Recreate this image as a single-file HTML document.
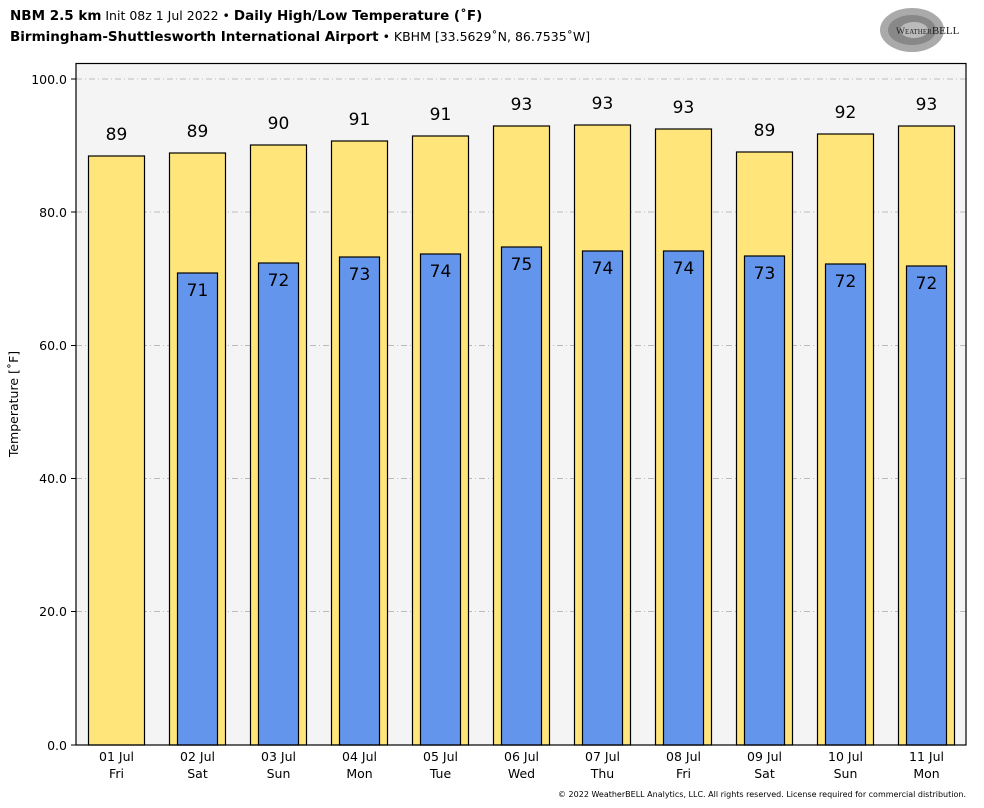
<!DOCTYPE html>
<html><head><meta charset="utf-8"><style>
html,body{margin:0;padding:0;background:#fff;}
svg{display:block;font-family:"DejaVu Sans","Liberation Sans",sans-serif;}
</style></head><body>
<svg width="984" height="808" viewBox="0 0 984 808" xmlns="http://www.w3.org/2000/svg">
<rect width="984" height="808" fill="#fff"/>
<text x="10" y="20" font-size="13.5" fill="#000"><tspan font-weight="bold">NBM 2.5 km</tspan><tspan font-size="12.5"> Init 08z 1 Jul 2022 • </tspan><tspan font-weight="bold">Daily High/Low Temperature (˚F)</tspan></text>
<text x="10" y="41" font-size="13.5" fill="#000"><tspan font-weight="bold">Birmingham-Shuttlesworth International Airport</tspan><tspan font-size="12.5"> • KBHM [33.5629˚N, 86.7535˚W]</tspan></text>
<!-- logo -->
<g>
<ellipse cx="912" cy="30" rx="32" ry="22" fill="#aaa"/>
<ellipse cx="912" cy="30" rx="24" ry="15" fill="#888"/>
<ellipse cx="914" cy="30" rx="14" ry="8" fill="#bbb"/>
<text x="896" y="34" font-size="9.5" font-family="Liberation Serif,serif" fill="#222">W<tspan font-size="7">EATHER</tspan><tspan font-size="11">BELL</tspan></text>
</g>
<rect x="76" y="63.5" width="890" height="681.5" fill="#f4f4f4"/>
<g stroke="#bbb" stroke-width="1" stroke-dasharray="6,3,1,3">
<line x1="76" x2="966" y1="79" y2="79"/>
<line x1="76" x2="966" y1="212" y2="212"/>
<line x1="76" x2="966" y1="345.5" y2="345.5"/>
<line x1="76" x2="966" y1="478.5" y2="478.5"/>
<line x1="76" x2="966" y1="611.5" y2="611.5"/>
</g>
<g stroke="#000" stroke-width="1.2" fill="#ffe57a">
<rect x="88.5" y="156" width="56" height="589"/>
<rect x="169.5" y="153" width="56" height="592"/>
<rect x="250.5" y="145" width="56" height="600"/>
<rect x="331.5" y="141" width="56" height="604"/>
<rect x="412.5" y="136" width="56" height="609"/>
<rect x="493.5" y="126" width="56" height="619"/>
<rect x="574.5" y="125" width="56" height="620"/>
<rect x="655.5" y="129" width="56" height="616"/>
<rect x="736.5" y="152" width="56" height="593"/>
<rect x="817.5" y="134" width="56" height="611"/>
<rect x="898.5" y="126" width="56" height="619"/>
</g>
<g stroke="#000" stroke-width="1.2" fill="#6495ec">
<rect x="177.5" y="273" width="40" height="472"/>
<rect x="258.5" y="263" width="40" height="482"/>
<rect x="339.5" y="257" width="40" height="488"/>
<rect x="420.5" y="254" width="40" height="491"/>
<rect x="501.5" y="247" width="40" height="498"/>
<rect x="582.5" y="251" width="40" height="494"/>
<rect x="663.5" y="251" width="40" height="494"/>
<rect x="744.5" y="256" width="40" height="489"/>
<rect x="825.5" y="264" width="40" height="481"/>
<rect x="906.5" y="266" width="40" height="479"/>
</g>
<g font-size="17" text-anchor="middle" fill="#000">
<text x="116.5" y="140">89</text>
<text x="197.5" y="137">89</text>
<text x="278.5" y="129">90</text>
<text x="359.5" y="125">91</text>
<text x="440.5" y="120">91</text>
<text x="521.5" y="110">93</text>
<text x="602.5" y="109">93</text>
<text x="683.5" y="113">93</text>
<text x="764.5" y="136">89</text>
<text x="845.5" y="118">92</text>
<text x="926.5" y="110">93</text>
<text x="197.5" y="296">71</text>
<text x="278.5" y="286">72</text>
<text x="359.5" y="280">73</text>
<text x="440.5" y="277">74</text>
<text x="521.5" y="270">75</text>
<text x="602.5" y="274">74</text>
<text x="683.5" y="274">74</text>
<text x="764.5" y="279">73</text>
<text x="845.5" y="287">72</text>
<text x="926.5" y="289">72</text>
</g>
<rect x="76" y="63.5" width="890" height="681.5" fill="none" stroke="#000" stroke-width="1.2"/>
<g stroke="#000" stroke-width="1">
<line x1="71" x2="76" y1="79" y2="79"/><line x1="71" x2="76" y1="212" y2="212"/><line x1="71" x2="76" y1="345.5" y2="345.5"/><line x1="71" x2="76" y1="478.5" y2="478.5"/><line x1="71" x2="76" y1="611.5" y2="611.5"/><line x1="71" x2="76" y1="745" y2="745"/>
</g>
<g font-size="12.5" text-anchor="end" fill="#000">
<text x="67" y="84">100.0</text><text x="67" y="217">80.0</text><text x="67" y="350">60.0</text><text x="67" y="483">40.0</text><text x="67" y="616">20.0</text><text x="67" y="750">0.0</text>
</g>
<text transform="translate(18,404) rotate(-90)" font-size="12.5" text-anchor="middle">Temperature [˚F]</text>
<g font-size="12.5" text-anchor="middle" fill="#000">
<text x="116.5" y="761">01 Jul</text><text x="116.5" y="778">Fri</text>
<text x="197.5" y="761">02 Jul</text><text x="197.5" y="778">Sat</text>
<text x="278.5" y="761">03 Jul</text><text x="278.5" y="778">Sun</text>
<text x="359.5" y="761">04 Jul</text><text x="359.5" y="778">Mon</text>
<text x="440.5" y="761">05 Jul</text><text x="440.5" y="778">Tue</text>
<text x="521.5" y="761">06 Jul</text><text x="521.5" y="778">Wed</text>
<text x="602.5" y="761">07 Jul</text><text x="602.5" y="778">Thu</text>
<text x="683.5" y="761">08 Jul</text><text x="683.5" y="778">Fri</text>
<text x="764.5" y="761">09 Jul</text><text x="764.5" y="778">Sat</text>
<text x="845.5" y="761">10 Jul</text><text x="845.5" y="778">Sun</text>
<text x="926.5" y="761">11 Jul</text><text x="926.5" y="778">Mon</text>
</g>
<text x="966" y="797" font-size="8" text-anchor="end" fill="#000">© 2022 WeatherBELL Analytics, LLC. All rights reserved. License required for commercial distribution.</text>
</svg>
</body></html>
